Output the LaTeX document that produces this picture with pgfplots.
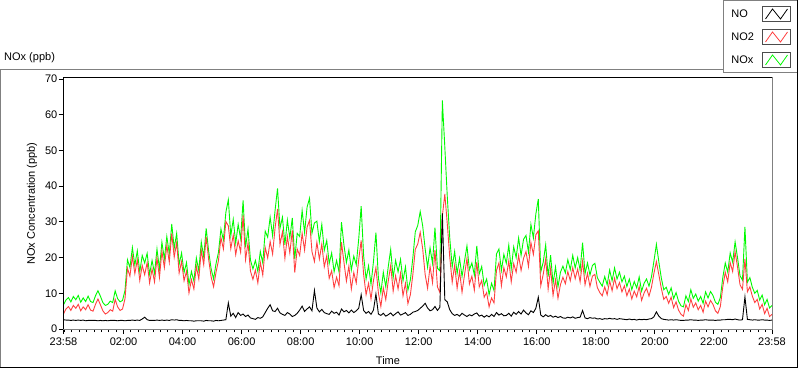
\documentclass[border=0pt]{standalone}
\usepackage{pgfplots}
\pgfplotsset{compat=1.18}
\usepackage{pgfplotstable}
\usepackage{fontspec}
\setmainfont{Liberation Sans}
\definecolor{noxgreen}{RGB}{0,250,0}
\definecolor{notwored}{RGB}{255,64,64}
\newcommand\lab{\fontsize{11bp}{13bp}\selectfont}

\pgfplotstableread{
t NO NO2 NOx
0 2.6 4.2 6.8
5 2.5 5.6 8.1
10 2.5 6.3 8.8
15 2.4 5.2 7.6
20 2.5 6.6 9.1
25 2.4 5.8 8.2
30 2.5 6.9 9.4
35 2.4 5.1 7.5
40 2.5 6.2 8.7
45 2.3 5.4 7.7
50 2.4 6.8 9.2
55 2.4 5.3 7.7
60 2.4 5.0 7.4
65 2.4 6.9 9.3
70 2.3 8.4 10.7
75 2.4 6.8 9.2
80 2.3 5.1 7.4
85 2.4 4.2 6.6
90 2.3 4.6 6.9
95 2.4 5.4 7.8
100 2.4 5.0 7.4
105 2.4 8.3 10.7
110 2.3 6.2 8.5
115 2.4 5.2 7.6
120 2.4 5.6 8.0
125 2.3 8.5 10.8
130 2.4 17.0 19.4
135 2.4 14.8 17.2
140 2.5 20.3 22.8
145 2.4 15.5 17.9
150 2.5 19.4 21.9
155 2.4 13.6 16.0
160 2.8 17.8 20.6
165 3.3 15.2 18.5
170 2.6 18.6 21.2
175 2.4 12.9 15.3
180 2.4 16.8 19.2
185 2.4 13.2 15.6
190 2.5 19.9 22.4
195 2.4 14.4 16.8
200 2.5 21.8 24.3
205 2.4 17.2 19.6
210 2.5 23.4 25.9
215 2.4 18.7 21.1
220 2.6 26.8 29.4
225 2.5 20.1 22.6
230 2.6 24.2 26.8
235 2.4 15.7 18.1
240 2.4 18.9 21.3
245 2.3 13.5 15.8
250 2.4 16.2 18.6
255 2.3 10.1 12.4
260 2.3 13.8 16.1
265 2.2 11.2 13.4
270 2.3 17.6 19.9
275 2.3 14.0 16.3
280 2.3 22.1 24.4
285 2.2 18.0 20.2
290 2.4 25.8 28.2
295 2.3 19.5 21.8
300 2.3 14.6 16.9
305 2.2 11.8 14.0
310 2.4 15.9 18.3
315 2.3 19.2 21.5
320 2.4 25.6 28.0
325 2.5 22.4 24.9
330 2.6 30.1 32.7
335 7.3 28.9 36.2
340 3.6 22.5 26.1
345 4.4 26.3 30.7
350 3.2 20.8 24.0
355 4.6 24.7 29.3
360 3.8 21.5 25.3
365 4.2 31.8 36.0
370 3.5 19.4 22.9
375 3.9 24.1 28.0
380 3.1 16.2 19.3
385 2.9 13.9 16.8
390 2.7 16.5 19.2
395 3.2 12.9 16.1
400 3.0 18.7 21.7
405 3.4 15.1 18.5
410 4.6 22.8 27.4
415 5.8 19.9 25.7
420 6.8 24.5 31.3
425 5.1 21.0 26.1
430 4.9 28.3 33.2
435 5.8 33.6 39.4
440 4.5 23.7 28.2
445 4.1 27.2 31.3
450 3.8 19.8 23.6
455 4.6 25.9 30.5
460 4.2 21.3 25.5
465 3.5 27.6 31.1
470 3.8 15.8 19.6
475 4.4 22.4 26.8
480 5.3 20.6 25.9
485 6.4 26.8 33.2
490 4.9 22.1 27.0
495 5.6 28.5 34.1
500 6.2 30.4 36.6
505 5.1 21.7 26.8
510 10.8 18.9 29.7
515 5.9 24.3 30.2
520 4.8 19.6 24.4
525 5.5 23.8 29.3
530 4.6 17.4 22.0
535 4.3 20.5 24.8
540 4.1 14.2 18.3
545 5.0 16.3 21.3
550 4.4 11.6 16.0
555 4.7 14.5 19.2
560 3.9 12.1 16.0
565 5.6 24.3 29.9
570 4.8 18.7 23.5
575 5.2 13.4 18.6
580 4.5 17.6 22.1
585 5.3 11.2 16.5
590 4.6 15.8 20.4
595 5.1 12.9 18.0
600 5.8 19.4 25.2
605 9.6 24.8 34.4
610 5.2 15.3 20.5
615 4.4 9.6 14.0
620 4.9 12.8 17.7
625 4.1 8.4 12.5
630 5.3 13.6 18.9
635 9.8 17.2 27.0
640 4.2 10.1 14.3
645 3.8 6.3 10.1
650 4.4 11.5 15.9
655 3.6 8.2 11.8
660 4.0 13.4 17.4
665 4.5 17.8 22.3
670 3.7 10.6 14.3
675 4.3 14.9 19.2
680 4.8 11.2 16.0
685 3.9 15.6 19.5
690 4.2 9.3 13.5
695 4.6 12.8 17.4
700 3.8 7.1 10.9
705 4.1 9.6 13.7
710 4.7 15.2 19.9
715 4.9 22.3 27.2
720 5.2 23.8 29.0
725 5.8 27.1 32.9
730 6.4 22.5 28.9
735 7.2 15.3 22.5
740 5.9 11.4 17.3
745 5.1 17.6 22.7
750 5.4 13.0 18.4
755 6.3 22.1 28.4
760 5.2 11.8 17.0
765 6.1 10.2 16.3
770 32.4 31.6 64.0
775 8.2 37.8 51.0
780 7.6 29.5 37.1
785 5.4 20.2 25.6
790 4.3 13.1 17.4
795 3.8 17.9 21.7
800 4.1 11.4 15.5
805 3.6 16.2 19.8
810 4.4 10.3 14.7
815 3.9 15.1 19.0
820 3.5 19.8 23.3
825 4.0 12.6 16.6
830 3.7 14.8 18.5
835 4.2 10.9 15.1
840 4.5 18.8 23.3
845 3.6 11.8 15.4
850 3.9 13.6 17.5
855 3.3 8.9 12.2
860 3.8 10.2 14.0
865 3.4 6.2 9.6
870 4.1 8.7 12.8
875 3.5 7.3 10.8
880 4.6 16.4 21.0
885 3.9 18.5 22.4
890 4.3 12.1 16.4
895 3.7 17.2 20.9
900 3.8 14.6 18.4
905 4.4 19.1 23.5
910 3.6 13.2 16.8
915 4.7 18.3 23.0
920 4.1 15.9 20.0
925 4.9 20.6 25.5
930 4.2 16.4 20.6
935 5.3 19.8 25.1
940 4.5 21.7 26.2
945 4.0 17.5 21.5
950 5.1 24.2 29.3
955 4.6 20.9 25.5
960 5.8 26.4 32.2
965 8.9 27.5 36.4
970 3.9 12.1 16.0
975 3.4 15.3 18.7
980 4.0 19.6 23.6
985 3.5 11.2 14.7
990 3.8 16.9 20.7
995 3.3 9.4 12.7
1000 3.6 13.8 17.4
1005 3.2 8.6 11.8
1010 3.5 12.4 15.9
1015 3.1 14.5 17.6
1020 3.0 12.7 15.7
1025 3.3 16.1 19.4
1030 3.1 13.5 16.6
1035 3.4 17.2 20.6
1040 3.0 14.1 17.1
1045 3.2 16.8 20.0
1050 3.3 13.2 16.5
1055 5.2 19.0 24.2
1060 3.1 12.4 15.5
1065 2.9 15.6 18.5
1070 3.2 11.9 15.1
1075 3.0 14.8 17.8
1080 3.1 15.3 18.4
1085 2.8 11.6 14.4
1090 2.9 10.2 13.1
1095 2.7 9.3 12.0
1100 2.9 11.8 14.7
1105 2.8 9.6 12.4
1110 3.0 13.5 16.5
1115 2.8 10.7 13.5
1120 2.9 14.2 17.1
1125 2.7 11.3 14.0
1130 2.9 13.0 15.9
1135 2.8 10.4 13.2
1140 2.7 12.1 14.8
1145 2.6 9.3 11.9
1150 2.8 11.2 14.0
1155 2.6 8.4 11.0
1160 2.7 10.6 13.3
1165 2.5 9.0 11.5
1170 2.7 11.9 14.6
1175 2.6 8.0 10.6
1180 2.7 10.1 12.8
1185 2.6 11.4 14.0
1190 2.8 9.2 12.0
1195 2.9 11.7 14.6
1200 3.4 15.6 19.0
1205 4.8 18.9 23.7
1210 3.6 15.2 18.8
1215 2.9 11.4 14.3
1220 2.7 8.3 11.0
1225 2.6 9.1 11.7
1230 2.5 7.2 9.7
1235 2.6 8.9 11.5
1240 2.5 6.0 8.5
1245 2.6 7.6 10.2
1250 2.5 5.3 7.8
1255 2.4 4.1 6.5
1260 2.4 3.6 6.2
1265 2.5 6.8 9.3
1270 2.5 5.2 7.7
1275 2.6 8.4 11.0
1280 2.5 6.1 8.6
1285 2.5 7.3 9.8
1290 2.4 5.4 7.8
1295 2.5 6.6 9.1
1300 2.5 4.7 7.2
1305 2.6 7.8 10.4
1310 2.5 6.2 8.7
1315 2.5 8.0 10.5
1320 2.5 6.9 9.4
1325 2.4 5.1 7.5
1330 2.5 4.4 6.9
1335 2.5 6.3 8.8
1340 2.6 11.8 14.4
1345 2.6 15.9 18.5
1350 2.7 13.2 15.9
1355 2.7 18.6 21.3
1360 2.6 16.1 18.7
1365 2.8 21.6 24.4
1370 2.6 17.3 19.9
1375 2.5 12.4 14.9
1380 2.6 11.1 13.7
1385 9.0 19.6 28.6
1390 2.7 10.4 13.1
1395 2.6 11.8 14.4
1400 2.5 9.2 11.7
1405 2.6 7.4 10.0
1410 2.5 8.3 10.8
1415 2.5 5.6 8.1
1420 2.6 6.9 9.5
1425 2.5 4.3 6.8
1430 2.5 5.8 8.3
1435 2.4 3.5 5.9
1440 2.5 4.1 6.6
}\noxdata

\begin{document}
\begin{tikzpicture}
\useasboundingbox (0,0) rectangle (800bp,369bp);
\draw[gray, line width=1bp] (0.5bp,1.5bp) -- (0.5bp,299.5bp) -- (730bp,299.5bp);
\node[anchor=base west, font=\lab, inner sep=0pt] at (4bp,308bp) {NOx (ppb)};
\begin{axis}[
  name=ax,
  scale only axis,
  width=708.5bp, height=251bp,
  at={(63.5bp,40bp)}, anchor=south west,
  xmin=0, xmax=1440, ymin=0, ymax=70.3,
  axis line style={gray, line width=1bp},
  xtick={0,122,242,362,482,602,722,842,962,1082,1202,1322,1440},
  xticklabels={23:58,02:00,04:00,06:00,08:00,10:00,12:00,14:00,16:00,18:00,20:00,22:00,23:58},
  minor xtick={2,17,...,1427},
  ytick={0,10,...,70},
  tick align=outside, xtick pos=bottom, ytick pos=left,
  major tick length=5bp, minor tick length=3bp,
  tick style={black, line width=1bp},
  every tick label/.append style={font=\lab, text=black},
  /pgf/number format/assume math mode=true,
  yticklabel style={inner xsep=1bp},
  xticklabel style={inner ysep=4bp},
  xlabel={Time},
  xlabel style={at={(axis description cs:0.458,-0.1275)}, anchor=center, font=\lab},
  ylabel={NOx Concentration (ppb)},
  ylabel style={at={(axis description cs:-0.0445,0.5)}, anchor=center, font=\lab},
  reverse legend,
  legend plot pos=right,
  legend style={at={(axis description cs:1.036,1.3088)}, anchor=north east,
    draw=gray, line width=1bp, fill=white, font=\lab,
    inner xsep=6bp, inner ysep=5bp, row sep=7bp, column sep=6bp,
    cells={anchor=west}},
  legend image code/.code={
    \draw[black!70, line width=1bp, fill=white] (0bp,-7.5bp) rectangle (28bp,7.5bp);
    \draw[#1, line width=0.8bp] (3bp,-5bp) -- (10bp,5bp) -- (18bp,-5bp) -- (25bp,5bp);
  },
]
\addplot[noxgreen, line width=0.9bp] table[x=t, y=NOx] {\noxdata};
\addlegendentry{NOx}
\addplot[notwored, line width=0.9bp] table[x=t, y=NO2] {\noxdata};
\addlegendentry{NO2}
\addplot[black, line width=0.9bp] table[x=t, y=NO] {\noxdata};
\addlegendentry{NO}
\end{axis}
\draw[black, line width=1bp] (ax.south west) -- (ax.north west) -- (ax.north east);
\draw[black, line width=1bp] (797.5bp,369bp) -- (797.5bp,1.5bp) -- (0bp,1.5bp);
\end{tikzpicture}
\end{document}
